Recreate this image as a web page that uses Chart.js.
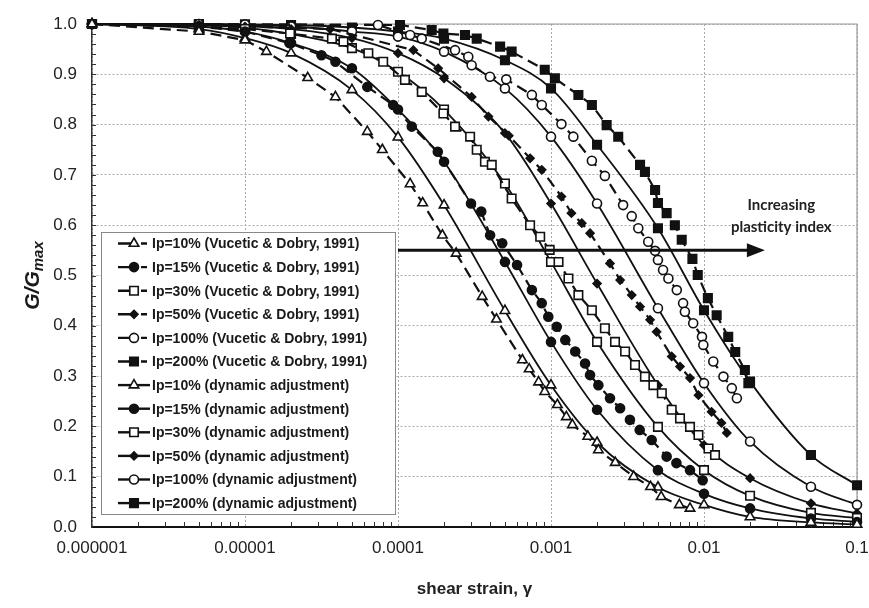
<!DOCTYPE html>
<html>
<head>
<meta charset="utf-8">
<script src="https://cdn.jsdelivr.net/npm/chart.js@4.4.0/dist/chart.umd.min.js"></script>
<style>
  html, body { margin: 0; padding: 0; background: #fff; }
  #wrap { width: 869px; height: 608px; }
</style>
</head>
<body>
<div id="wrap"><canvas id="chart" width="869" height="608"></canvas></div>
<script>
// ---- data ----

// strains where the fitted (dynamic adjustment) curves carry a marker
var strainFit = [1e-6, 5e-6, 1e-5, 2e-5, 5e-5, 1e-4, 2e-4, 5e-4, 1e-3, 2e-3, 5e-3, 1e-2, 2e-2, 5e-2, 0.1];

var fit10  = [1.0, 0.99, 0.972, 0.942, 0.869, 0.775, 0.64, 0.43, 0.282, 0.168, 0.079, 0.044, 0.02, 0.009, 0.005];
var fit15  = [1.0, 0.995, 0.985, 0.962, 0.912, 0.83, 0.726, 0.527, 0.368, 0.233, 0.113, 0.066, 0.037, 0.017, 0.01];
var fit30  = [1.0, 0.998, 0.993, 0.98, 0.952, 0.905, 0.83, 0.683, 0.527, 0.368, 0.199, 0.113, 0.062, 0.028, 0.018];
var fit50  = [1.0, 0.999, 0.996, 0.99, 0.972, 0.942, 0.892, 0.783, 0.643, 0.484, 0.282, 0.163, 0.097, 0.047, 0.027];
var fit100 = [1.0, 1.0, 0.998, 0.995, 0.985, 0.975, 0.945, 0.872, 0.776, 0.643, 0.435, 0.286, 0.17, 0.08, 0.044];
var fit200 = [1.0, 1.0, 0.999, 0.998, 0.993, 0.985, 0.971, 0.928, 0.872, 0.76, 0.594, 0.431, 0.289, 0.143, 0.083];

var vdStrain10 = [1e-6, 5e-6, 1e-5, 1.38e-5, 2.57e-5, 3.9e-5, 6.3e-5, 7.9e-5, 1.2e-4, 1.45e-4, 1.95e-4, 2.4e-4, 3.55e-4, 4.4e-4, 6.5e-4, 7.2e-4, 8.3e-4, 9.1e-4, 1.1e-3, 1.26e-3, 1.38e-3, 1.74e-3, 2.04e-3, 2.63e-3, 3.47e-3, 4.47e-3, 5.25e-3, 6.9e-3, 8.1e-3];
var vd10 = [1.0, 0.985, 0.968, 0.945, 0.893, 0.855, 0.786, 0.75, 0.682, 0.644, 0.58, 0.544, 0.458, 0.413, 0.332, 0.314, 0.288, 0.269, 0.243, 0.219, 0.203, 0.18, 0.153, 0.128, 0.1, 0.08, 0.06, 0.044, 0.037];

var vdStrain15 = [1e-6, 5e-6, 1e-5, 1.95e-5, 3.16e-5, 3.9e-5, 6.3e-5, 9.3e-5, 1.23e-4, 1.82e-4, 3.0e-4, 3.5e-4, 4.0e-4, 4.8e-4, 6.0e-4, 7.5e-4, 8.7e-4, 9.6e-4, 1.09e-3, 1.24e-3, 1.44e-3, 1.67e-3, 1.8e-3, 2.04e-3, 2.43e-3, 2.83e-3, 3.28e-3, 3.8e-3, 4.55e-3, 5.7e-3, 6.6e-3, 8.1e-3, 9.8e-3];
var vd15 = [1.0, 0.995, 0.985, 0.962, 0.938, 0.925, 0.875, 0.839, 0.796, 0.746, 0.643, 0.627, 0.58, 0.564, 0.521, 0.471, 0.445, 0.418, 0.398, 0.372, 0.349, 0.325, 0.302, 0.282, 0.256, 0.236, 0.213, 0.193, 0.173, 0.14, 0.127, 0.113, 0.093];

var vdStrain30 = [1e-6, 5e-6, 1e-5, 1.97e-5, 3.7e-5, 4.4e-5, 6.4e-5, 8.0e-5, 1.11e-4, 1.43e-4, 1.98e-4, 2.36e-4, 2.96e-4, 3.27e-4, 3.7e-4, 4.1e-4, 5.53e-4, 7.3e-4, 8.5e-4, 9.8e-4, 1.12e-3, 1.3e-3, 1.51e-3, 1.85e-3, 2.25e-3, 2.62e-3, 3.05e-3, 3.54e-3, 4.11e-3, 4.67e-3, 5.3e-3, 6.15e-3, 6.97e-3, 8.1e-3, 9.2e-3, 1.07e-2, 1.18e-2];
var vd30 = [1.0, 0.995, 0.99, 0.981, 0.971, 0.965, 0.942, 0.925, 0.889, 0.865, 0.822, 0.796, 0.776, 0.75, 0.726, 0.72, 0.653, 0.6, 0.577, 0.551, 0.527, 0.494, 0.461, 0.431, 0.395, 0.368, 0.349, 0.322, 0.299, 0.282, 0.266, 0.233, 0.216, 0.199, 0.183, 0.156, 0.143];

var vdStrain50 = [1e-6, 5e-6, 1e-5, 3.6e-5, 1.26e-4, 1.83e-4, 3.03e-4, 3.9e-4, 5.3e-4, 7.3e-4, 8.7e-4, 1.17e-3, 1.36e-3, 1.59e-3, 1.8e-3, 2.43e-3, 2.83e-3, 3.37e-3, 3.82e-3, 4.44e-3, 4.9e-3, 6.15e-3, 6.97e-3, 8.1e-3, 9.2e-3, 1.12e-2, 1.3e-2, 1.41e-2];
var vd50 = [1.0, 0.998, 0.995, 0.99, 0.948, 0.912, 0.855, 0.816, 0.778, 0.733, 0.71, 0.657, 0.624, 0.604, 0.584, 0.524, 0.491, 0.461, 0.438, 0.412, 0.388, 0.339, 0.319, 0.296, 0.262, 0.229, 0.207, 0.187];

var vdStrain100 = [1e-6, 5e-6, 1e-5, 7.4e-5, 1.2e-4, 1.43e-4, 2.36e-4, 2.88e-4, 3.03e-4, 3.99e-4, 5.1e-4, 7.5e-4, 8.7e-4, 1.17e-3, 1.4e-3, 1.85e-3, 2.25e-3, 2.96e-3, 3.37e-3, 3.72e-3, 4.32e-3, 4.79e-3, 5.0e-3, 5.4e-3, 5.85e-3, 6.64e-3, 7.3e-3, 7.5e-3, 8.5e-3, 9.7e-3, 9.9e-3, 1.15e-2, 1.34e-2, 1.52e-2, 1.64e-2];
var vd100 = [1.0, 1.0, 0.999, 0.998, 0.978, 0.971, 0.948, 0.935, 0.918, 0.895, 0.89, 0.859, 0.839, 0.801, 0.776, 0.728, 0.698, 0.64, 0.618, 0.594, 0.567, 0.549, 0.531, 0.511, 0.494, 0.471, 0.445, 0.428, 0.405, 0.378, 0.362, 0.329, 0.299, 0.276, 0.256];

var vdStrain200 = [1e-6, 5e-6, 1e-5, 1.03e-4, 1.66e-4, 1.98e-4, 2.74e-4, 3.27e-4, 4.65e-4, 5.53e-4, 9.1e-4, 1.06e-3, 1.51e-3, 1.85e-3, 2.31e-3, 2.75e-3, 3.82e-3, 4.11e-3, 4.79e-3, 5.0e-3, 5.7e-3, 6.45e-3, 7.15e-3, 8.4e-3, 9.1e-3, 1.06e-2, 1.21e-2, 1.44e-2, 1.6e-2, 1.85e-2, 1.95e-2];
var vd200 = [1.0, 1.0, 0.999, 0.998, 0.988, 0.981, 0.978, 0.971, 0.955, 0.945, 0.909, 0.892, 0.859, 0.839, 0.799, 0.776, 0.72, 0.706, 0.67, 0.644, 0.624, 0.6, 0.571, 0.533, 0.501, 0.455, 0.421, 0.378, 0.348, 0.312, 0.286];

var vdLabels = ["Ip=10% (Vucetic & Dobry, 1991)", "Ip=15% (Vucetic & Dobry, 1991)", "Ip=30% (Vucetic & Dobry, 1991)",
                "Ip=50% (Vucetic & Dobry, 1991)", "Ip=100% (Vucetic & Dobry, 1991)", "Ip=200% (Vucetic & Dobry, 1991)"];
var fitLabels = ["Ip=10% (dynamic adjustment)", "Ip=15% (dynamic adjustment)", "Ip=30% (dynamic adjustment)",
                 "Ip=50% (dynamic adjustment)", "Ip=100% (dynamic adjustment)", "Ip=200% (dynamic adjustment)"];

var xTickValues = [1e-6, 1e-5, 1e-4, 1e-3, 1e-2, 1e-1];
var xTickLabels = ["0.000001", "0.00001", "0.0001", "0.001", "0.01", "0.1"];

// arrow annotation
var arrowStrain = [1e-4, 0.025];
var arrowLevel = 0.55;
var noteStrain = 0.032;
var noteLevels = [0.64, 0.596];
var noteLines = ["Increasing", "plasticity index"];

// ---- styles ----
var markers = [
  {shape: 'triangle', r: 5.5, fill: false},
  {shape: 'circle',   r: 4.5, fill: true},
  {shape: 'rect',     r: 6,   fill: false},
  {shape: 'rectRot',  r: 4,   fill: true},
  {shape: 'circle',   r: 4.5, fill: false},
  {shape: 'rect',     r: 6,   fill: true}
];
var INK = '#111';

function makeSet(label, xs, ys, m, fitted) {
  return {
    label: label,
    data: xs.map(function(x, i) { return {x: x, y: ys[i]}; }),
    borderColor: INK,
    borderWidth: fitted ? 1.8 : 2.2,
    borderDash: fitted ? [] : [11, 6],
    pointStyle: m.shape,
    pointRadius: m.r,
    pointHoverRadius: m.r,
    pointBackgroundColor: m.fill ? INK : '#fff',
    pointBorderColor: INK,
    pointBorderWidth: 1.6,
    cubicInterpolationMode: fitted ? 'monotone' : 'default',
    tension: 0,
    fill: false,
    clip: false,
    isFit: fitted,
    marker: m
  };
}

var vdX = [vdStrain10, vdStrain15, vdStrain30, vdStrain50, vdStrain100, vdStrain200];
var vdY = [vd10, vd15, vd30, vd50, vd100, vd200];
var fitY = [fit10, fit15, fit30, fit50, fit100, fit200];

var datasets = [];
for (var i = 0; i < 6; i++) datasets.push(makeSet(vdLabels[i], vdX[i], vdY[i], markers[i], false));
for (var j = 0; j < 6; j++) datasets.push(makeSet(fitLabels[j], strainFit, fitY[j], markers[j], true));

// draw a marker the same way Chart.js does
function drawMarker(ctx, m, x, y) {
  var r = m.r;
  ctx.beginPath();
  if (m.shape === 'circle') {
    ctx.arc(x, y, r, 0, Math.PI * 2);
  } else if (m.shape === 'triangle') {
    for (var k = 0; k < 3; k++) {
      var a = k * 2 * Math.PI / 3;
      ctx[k ? 'lineTo' : 'moveTo'](x + Math.sin(a) * r, y - Math.cos(a) * r);
    }
  } else if (m.shape === 'rect') {
    var s = Math.SQRT1_2 * r;
    ctx.rect(x - s, y - s, 2 * s, 2 * s);
  } else if (m.shape === 'rectRot') {
    ctx.moveTo(x, y - r); ctx.lineTo(x + r, y); ctx.lineTo(x, y + r); ctx.lineTo(x - r, y);
  }
  ctx.closePath();
  ctx.fillStyle = m.fill ? INK : '#fff';
  ctx.fill();
  ctx.lineWidth = 1.6;
  ctx.strokeStyle = INK;
  ctx.stroke();
}

// frame, minor ticks, arrow, note, legend, y title
var decorPlugin = {
  id: 'decor',
  beforeDatasetsDraw: function(chart) {
    var ctx = chart.ctx, a = chart.chartArea;
    var xs = chart.scales.x, ys = chart.scales.y;
    ctx.save();
    ctx.strokeStyle = '#9a9a9a';
    ctx.lineWidth = 1.2;
    ctx.beginPath();
    ctx.moveTo(a.left, a.top); ctx.lineTo(a.right, a.top); ctx.lineTo(a.right, a.bottom);
    ctx.stroke();
    // minor ticks inside the plot
    ctx.strokeStyle = '#333';
    ctx.lineWidth = 1;
    ctx.beginPath();
    for (var d = 0; d < xTickValues.length - 1; d++) {
      for (var k = 2; k < 10; k++) {
        var px = Math.round(xs.getPixelForValue(k * xTickValues[d])) + 0.5;
        ctx.moveTo(px, a.bottom); ctx.lineTo(px, a.bottom - 5);
      }
    }
    for (var v = 1; v < 50; v++) {
      var py = Math.round(ys.getPixelForValue(v / 50)) + 0.5;
      ctx.moveTo(a.left, py); ctx.lineTo(a.left + 4, py);
    }
    ctx.stroke();
    ctx.restore();
  },
  afterDatasetsDraw: function(chart) {
    var ctx = chart.ctx, a = chart.chartArea;
    var xs = chart.scales.x, ys = chart.scales.y;
    ctx.save();

    // arrow
    var x0 = xs.getPixelForValue(arrowStrain[0]);
    var x1 = xs.getPixelForValue(arrowStrain[1]);
    var yA = ys.getPixelForValue(arrowLevel);
    ctx.strokeStyle = INK; ctx.fillStyle = INK;
    ctx.lineWidth = 3;
    ctx.beginPath(); ctx.moveTo(x0, yA); ctx.lineTo(x1 - 14, yA); ctx.stroke();
    ctx.beginPath(); ctx.moveTo(x1, yA); ctx.lineTo(x1 - 18, yA - 7); ctx.lineTo(x1 - 18, yA + 7); ctx.closePath(); ctx.fill();

    // note
    ctx.font = 'bold 15px Lato, "Open Sans", sans-serif';
    ctx.textAlign = 'center'; ctx.textBaseline = 'middle';
    ctx.fillStyle = '#222';
    var nx = xs.getPixelForValue(noteStrain);
    for (var n = 0; n < noteLines.length; n++) ctx.fillText(noteLines[n], nx, ys.getPixelForValue(noteLevels[n]));

    // legend box
    var bl = a.left + 9, bt = a.top + 208, bw = 294, bh = 282;
    ctx.fillStyle = '#fff';
    ctx.fillRect(bl, bt, bw, bh);
    ctx.strokeStyle = '#888'; ctx.lineWidth = 1;
    ctx.strokeRect(bl + 0.5, bt + 0.5, bw, bh);
    var sets = chart.data.datasets;
    var rowH = 23.6;
    ctx.font = 'bold 14px "Liberation Sans", Arial, sans-serif';
    ctx.textAlign = 'left'; ctx.textBaseline = 'middle';
    for (var i = 0; i < sets.length; i++) {
      var ds = sets[i];
      var cy = bt + 11.5 + i * rowH;
      var mx = bl + 33;
      ctx.strokeStyle = INK; ctx.lineWidth = 2.4;
      ctx.beginPath();
      ctx.moveTo(bl + 17, cy); ctx.lineTo(mx, cy);
      if (ds.isFit) { ctx.lineTo(bl + 49, cy); }
      else { ctx.moveTo(bl + 40, cy); ctx.lineTo(bl + 46, cy); }
      ctx.stroke();
      drawMarker(ctx, ds.marker, mx, cy);
      ctx.fillStyle = '#1a1a1a';
      ctx.fillText(ds.label, bl + 51, cy + 1);
    }

    // y axis title with subscript
    var cyT = (a.top + a.bottom) / 2;
    ctx.translate(39, cyT);
    ctx.rotate(-Math.PI / 2);
    var big = 'bold italic 21px "Liberation Sans", Arial, sans-serif';
    var small = 'bold italic 15px "Liberation Sans", Arial, sans-serif';
    ctx.font = big; var w1 = ctx.measureText('G/G').width;
    ctx.font = small; var w2 = ctx.measureText('max').width;
    var sx = -(w1 + w2) / 2;
    ctx.textAlign = 'left'; ctx.textBaseline = 'alphabetic';
    ctx.fillStyle = '#1a1a1a';
    ctx.font = big; ctx.fillText('G/G', sx, 0);
    ctx.font = small; ctx.fillText('max', sx + w1, 4);
    ctx.restore();
  }
};

var ctx = document.getElementById('chart');
var chart = new Chart(ctx, {
  type: 'line',
  data: { datasets: datasets },
  options: {
    responsive: false,
    animation: false,
    events: [],
    layout: { padding: { top: 24, right: 12, left: 0, bottom: 0 } },
    plugins: {
      legend: { display: false },
      tooltip: { enabled: false }
    },
    scales: {
      x: {
        type: 'logarithmic',
        min: 1e-6,
        max: 0.1,
        afterBuildTicks: function(scale) {
          scale.ticks = xTickValues.map(function(v) { return {value: v}; });
        },
        afterFit: function(scale) {
          scale.height = 81;
          scale.paddingLeft = 0;
          scale.paddingRight = 0;
        },
        ticks: {
          autoSkip: false,
          maxRotation: 0,
          padding: 11,
          color: '#222',
          font: { size: 17, family: '"Liberation Sans", Arial, sans-serif' },
          callback: function(v, i) { return xTickLabels[i]; }
        },
        grid: { color: '#aaaaaa', lineWidth: 1, drawTicks: false },
        border: { display: true, color: '#111', width: 2, dash: [2, 2] },
        title: {
          display: true,
          text: 'shear strain, γ',
          color: '#222',
          font: { size: 17, weight: 'bold', family: '"Liberation Sans", Arial, sans-serif' },
          padding: { top: 4, bottom: 8 }
        }
      },
      y: {
        min: 0,
        max: 1,
        afterFit: function(scale) {
          scale.width = 92;
          scale.paddingTop = 0;
          scale.paddingBottom = 0;
        },
        ticks: {
          stepSize: 0.1,
          padding: 15,
          color: '#222',
          font: { size: 17, family: '"Liberation Sans", Arial, sans-serif' },
          callback: function(v) { return Number(v).toFixed(1); }
        },
        grid: { color: '#aaaaaa', lineWidth: 1, drawTicks: false },
        border: { display: true, color: '#333', width: 1.5, dash: [2, 2] }
      }
    }
  },
  plugins: [decorPlugin]
});
</script>
</body>
</html>
